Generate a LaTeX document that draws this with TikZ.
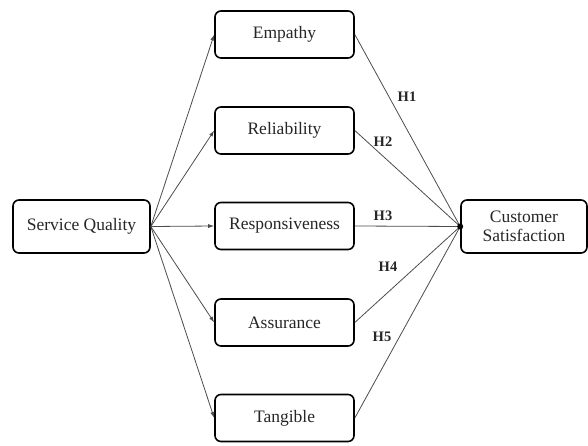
\documentclass[tikz,border=0pt]{standalone}
\usepackage{fontspec}
\setmainfont{Liberation Serif}
\usetikzlibrary{arrows.meta}
\begin{document}
\begin{tikzpicture}[x=1pt,y=-1pt,
  box/.style={draw=black,line width=1.6pt,rounded corners=6pt,fill=white,inner sep=0pt,font=\fontsize{17.5}{19}\selectfont,align=center,text=black!85},
  conn/.style={draw=black!70,line width=0.8pt},
  arr/.style={conn,-{Latex[length=6pt,width=4pt]}},
  hlab/.style={font=\bfseries\fontsize{14.5}{15}\selectfont,text=black!85}]
\useasboundingbox (0,0) rectangle (588,446);
\node[box,minimum width=137pt,minimum height=53pt] (sq) at (81.5,226.5) {Service Quality};
\node[box,minimum width=139pt,minimum height=47pt] (emp) at (284.5,34.5) {Empathy};
\node[box,minimum width=139pt,minimum height=47pt] (rel) at (284.5,130.5) {Reliability};
\node[box,minimum width=139pt,minimum height=47pt] (res) at (284.5,226) {Responsiveness};
\node[box,minimum width=139pt,minimum height=47pt] (ass) at (284.5,322.5) {Assurance};
\node[box,minimum width=139pt,minimum height=47pt] (tan) at (284.5,418) {Tangible};
\node[box,minimum width=126pt,minimum height=53pt] (cs) at (524,226.5) {Customer\\Satisfaction};
\coordinate (hub) at (cs.west);
\foreach \t in {emp,rel,res,ass,tan}{
  \draw[arr] (sq.east) -- (\t.west);
  \draw[conn] (\t.east) -- (hub);
}
\fill (hub) circle (3pt);
\node[hlab] (h1) at (407,97) {H1};
\node[hlab] (h2) at (383,142) {H2};
\node[hlab] (h3) at (383,216) {H3};
\node[hlab] (h4) at (388,267) {H4};
\node[hlab] (h5) at (382,337) {H5};
\end{tikzpicture}
\end{document}
